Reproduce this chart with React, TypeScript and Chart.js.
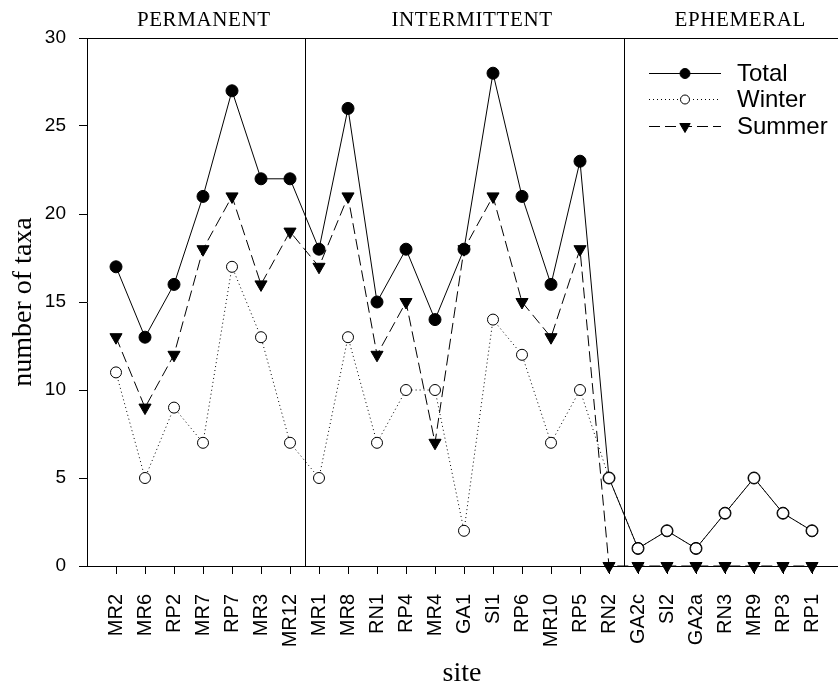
import React, { useEffect, useRef } from 'react';
import { Chart, registerables } from 'chart.js';

Chart.register(...registerables);

const sites = ['MR2', 'MR6', 'RP2', 'MR7', 'RP7', 'MR3', 'MR12', 'MR1', 'MR8', 'RN1', 'RP4', 'MR4', 'GA1', 'SI1', 'RP6', 'MR10', 'RP5', 'RN2', 'GA2c', 'SI2', 'GA2a', 'RN3', 'MR9', 'RP3', 'RP1'];
const total = [17, 13, 16, 21, 27, 22, 22, 18, 26, 15, 18, 14, 18, 28, 21, 16, 23, 5, 1, 2, 1, 3, 5, 3, 2];
const winter = [11, 5, 9, 7, 17, 13, 7, 5, 13, 7, 10, 10, 2, 14, 12, 7, 10, 5, 1, 2, 1, 3, 5, 3, 2];
const summer = [13, 9, 12, 18, 21, 16, 19, 17, 21, 12, 15, 7, 18, 21, 15, 13, 18, 0, 0, 0, 0, 0, 0, 0, 0];
const yTicks = [0, 5, 10, 15, 20, 25, 30];
const groupNames = ['PERMANENT', 'INTERMITTENT', 'EPHEMERAL'];
const groupLastIndex = [6, 17, 24];

const SANS = '"Liberation Sans", Arial, sans-serif';
const SERIF = '"Liberation Serif", "Times New Roman", serif';

type Marker = 'dot' | 'open' | 'tri';

function drawMarker(ctx: CanvasRenderingContext2D, kind: Marker, x: number, y: number, r: number) {
  ctx.save();
  ctx.setLineDash([]);
  ctx.lineWidth = 1;
  ctx.strokeStyle = '#000';
  ctx.beginPath();
  if (kind === 'tri') {
    const s = r * Math.sqrt(3) / 2;
    ctx.moveTo(x - s, y - r / 2);
    ctx.lineTo(x + s, y - r / 2);
    ctx.lineTo(x, y + r);
    ctx.closePath();
    ctx.fillStyle = '#000';
  } else {
    ctx.arc(x, y, r, 0, Math.PI * 2);
    ctx.fillStyle = kind === 'dot' ? '#000' : '#fff';
  }
  ctx.fill();
  ctx.stroke();
  ctx.restore();
}

const decor = {
  id: 'decor',
  beforeDatasetsDraw(chart: any) {
    const { ctx, chartArea } = chart;
    const xs = chart.scales.x;
    ctx.save();
    ctx.strokeStyle = '#000';
    ctx.lineWidth = 1;
    ctx.setLineDash([]);
    ctx.beginPath();
    ctx.moveTo(chartArea.left, chartArea.top + 0.5);
    ctx.lineTo(chartArea.right, chartArea.top + 0.5);
    ctx.moveTo(chartArea.right - 0.5, chartArea.top);
    ctx.lineTo(chartArea.right - 0.5, chartArea.bottom);
    for (let g = 0; g < groupLastIndex.length - 1; g++) {
      const px = Math.round(xs.getPixelForValue(groupLastIndex[g] + 0.5)) + 0.5;
      ctx.moveTo(px, chartArea.top);
      ctx.lineTo(px, chartArea.bottom);
    }
    ctx.stroke();
    ctx.restore();
  },
  afterDraw(chart: any) {
    const { ctx, chartArea } = chart;
    const xs = chart.scales.x;
    ctx.save();
    ctx.fillStyle = '#000';
    // group labels
    ctx.font = `21px ${SERIF}`;
    (ctx as any).letterSpacing = '0.6px';
    ctx.textAlign = 'center';
    ctx.textBaseline = 'middle';
    let start = -1;
    for (let g = 0; g < groupNames.length; g++) {
      const end = g === groupNames.length - 1 ? groupLastIndex[g] + 1 : groupLastIndex[g] + 0.5;
      const mid = (xs.getPixelForValue(start) + xs.getPixelForValue(end)) / 2 + 8;
      ctx.fillText(groupNames[g], mid, chartArea.top - 18);
      start = end;
    }
    (ctx as any).letterSpacing = '0px';
    // axis titles
    ctx.font = `28px ${SERIF}`;
    ctx.textAlign = 'center';
    ctx.textBaseline = 'alphabetic';
    ctx.fillText('site', 462, 681);
    ctx.save();
    ctx.translate(31, (chartArea.top + chartArea.bottom) / 2);
    ctx.rotate(-Math.PI / 2);
    ctx.fillText('number of taxa', 0, 0);
    ctx.restore();
    // legend
    const items: { label: string; dash: number[]; marker: Marker; r: number }[] = [
      { label: 'Total', dash: [], marker: 'dot', r: 5 },
      { label: 'Winter', dash: [1, 3], marker: 'open', r: 4.5 },
      { label: 'Summer', dash: [11, 5], marker: 'tri', r: 6 },
    ];
    const rowsY = [73, 99, 126];
    items.forEach((it, i) => {
      const y = rowsY[i] + 0.5;
      ctx.strokeStyle = '#000';
      ctx.lineWidth = 1;
      ctx.setLineDash(it.dash);
      ctx.beginPath();
      ctx.moveTo(649, y);
      ctx.lineTo(721, y);
      ctx.stroke();
      drawMarker(ctx, it.marker, 685, y, it.r);
      ctx.setLineDash([]);
      ctx.font = `24px ${SANS}`;
      ctx.textAlign = 'left';
      ctx.textBaseline = 'middle';
      ctx.fillStyle = '#000';
      ctx.fillText(it.label, 737, rowsY[i] + 1);
    });
    ctx.restore();
  },
};

export default function App() {
  const ref = useRef<HTMLCanvasElement>(null);
  useEffect(() => {
    const canvas = ref.current!;
    const pts = (arr: number[]) => arr.map((y, i) => ({ x: i, y }));
    const chart = new Chart(canvas, {
      type: 'line',
      data: {
        datasets: [
          {
            label: 'Winter',
            data: pts(winter),
            borderColor: '#000',
            borderWidth: 1,
            borderDash: [1, 3],
            pointStyle: 'circle',
            pointRadius: 5.5,
            pointBackgroundColor: '#fff',
            pointBorderColor: '#000',
            pointBorderWidth: 1,
            clip: false,
            tension: 0,
          },
          {
            label: 'Total',
            data: pts(total),
            borderColor: '#000',
            borderWidth: 1,
            pointStyle: 'circle',
            pointRadius: 6,
            pointBackgroundColor: '#000',
            pointBorderColor: '#000',
            pointBorderWidth: 1,
            clip: false,
            tension: 0,
          },
          {
            label: 'Summer',
            data: pts(summer),
            borderColor: '#000',
            borderWidth: 1,
            borderDash: [11, 5],
            pointStyle: 'triangle',
            pointRotation: 180,
            pointRadius: 7,
            pointBackgroundColor: '#000',
            pointBorderColor: '#000',
            pointBorderWidth: 1,
            clip: false,
            tension: 0,
          },
        ] as any,
      },
      options: {
        animation: false,
        responsive: false,
        devicePixelRatio: 1,
        events: [],
        layout: { padding: { top: 38, right: 4, left: 0, bottom: 0 } },
        plugins: { legend: { display: false }, tooltip: { enabled: false } },
        scales: {
          x: {
            type: 'linear',
            min: -1,
            max: 25,
            afterFit: (s: any) => { s.height = 119; s.paddingLeft = 0; s.paddingRight = 0; },
            afterBuildTicks: (s: any) => { s.ticks = sites.map((_, i) => ({ value: i })); },
            ticks: {
              autoSkip: false,
              maxRotation: 90,
              minRotation: 90,
              padding: 20,
              color: '#000',
              font: { family: SANS, size: 20 },
              callback: (v: any) => sites[v] ?? '',
            },
            grid: { drawOnChartArea: false, drawTicks: true, tickLength: 8, color: '#000', lineWidth: 1 },
            border: { display: true, color: '#000', width: 1 },
          },
          y: {
            min: 0,
            max: 30,
            afterFit: (s: any) => { s.width = 87; s.paddingTop = 0; s.paddingBottom = 0; },
            afterBuildTicks: (s: any) => { s.ticks = yTicks.map((v) => ({ value: v })); },
            ticks: { padding: 13, color: '#000', font: { family: SANS, size: 19 } },
            grid: { drawOnChartArea: false, drawTicks: true, tickLength: 8, color: '#000', lineWidth: 1 },
            border: { display: true, color: '#000', width: 1 },
          },
        },
      } as any,
      plugins: [decor],
    });
    return () => chart.destroy();
  }, []);
  return (
    <div style={{ position: 'absolute', left: 0, top: 0, width: 838, height: 685, overflow: 'hidden', background: '#fff' }}>
      <canvas ref={ref} width={849} height={685} style={{ width: 849, height: 685, display: 'block' }} />
    </div>
  );
}
